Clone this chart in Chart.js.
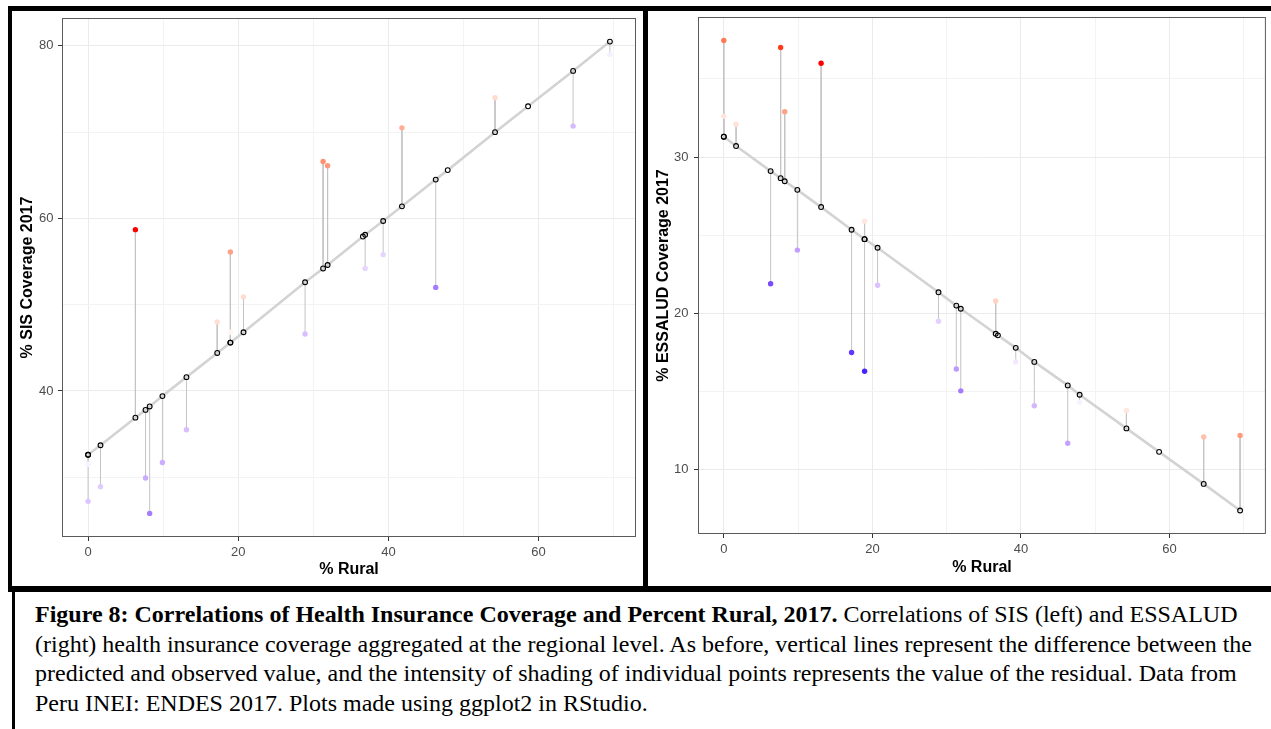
<!DOCTYPE html>
<html>
<head>
<meta charset="utf-8">
<script src="https://cdn.jsdelivr.net/npm/chart.js@4.4.1/dist/chart.umd.min.js"></script>
<style>
body { margin: 0; background: #fff; width: 1271px; height: 729px; overflow: hidden; position: relative; }
.bar { position: absolute; background: #000; }
canvas { position: absolute; }
#caption { position: absolute; left: 35px; top: 600px; font-family: "Liberation Serif", serif; font-size: 24px; line-height: 29.6px; white-space: nowrap; color: #000; }
</style>
</head>
<body>
<div class="bar" style="left:8px;top:6px;width:1263px;height:5px"></div>
<div class="bar" style="left:8px;top:6px;width:4px;height:586px"></div>
<div class="bar" style="left:643px;top:6px;width:5px;height:586px"></div>
<div class="bar" style="left:8px;top:586px;width:1263px;height:6px"></div>
<div class="bar" style="left:12px;top:592px;width:3px;height:137px"></div>

<canvas id="sis" width="631" height="575" style="left:12px;top:11px"></canvas>
<canvas id="essalud" width="623" height="575" style="left:648px;top:11px"></canvas>

<div id="caption"><b>Figure 8: Correlations of Health Insurance Coverage and Percent Rural, 2017.</b> Correlations of SIS (left) and ESSALUD<br>(right) health insurance coverage aggregated at the regional level. As before, vertical lines represent the difference between the<br>predicted and observed value, and the intensity of shading of individual points represents the value of the residual. Data from<br>Peru INEI: ENDES 2017. Plots made using ggplot2 in RStudio.</div>

<script>
// % rural population per region (shared x for both plots)
var pctRural = [0, 0, 1.65, 6.3, 7.65, 8.2, 9.9, 13.1, 17.2, 18.95, 18.95, 20.7, 28.9,
    31.3, 31.9, 36.6, 36.9, 39.3, 41.8, 46.3, 47.9, 54.2, 58.6, 64.6, 69.5];

// SIS coverage: observed and predicted (regression line)
var sisObserved = [31.5, 27.2, 28.9, 58.7, 29.9, 25.8, 31.7, 35.5, 48.0, 56.1, 46.8, 50.9, 46.6,
    66.6, 66.1, 58.0, 54.2, 55.8, 70.5, 52.0, 65.7, 74.0, 73.0, 70.7, 79.0];
var sisPredicted = [32.6, 32.6, 33.7, 36.9, 37.8, 38.2, 39.4, 41.6, 44.4, 45.6, 45.6, 46.8, 52.6,
    54.2, 54.6, 57.9, 58.1, 59.7, 61.4, 64.5, 65.6, 70.0, 73.0, 77.1, 80.5];

// ESSALUD coverage: observed and predicted
var essaludObserved = [37.45, 32.6, 32.1, 21.9, 37.0, 32.9, 24.05, 36.0, 17.5, 16.3, 25.9, 21.8, 19.5,
    16.45, 15.05, 20.8, 18.5, 16.9, 14.1, 11.7, 14.3, 13.8, 11.1, 12.1, 12.2];
var essaludPredicted = [31.3, 31.3, 30.7, 29.1, 28.65, 28.45, 27.9, 26.8, 25.35, 24.75, 24.75, 24.2, 21.35,
    20.5, 20.3, 18.7, 18.6, 17.8, 16.9, 15.4, 14.8, 12.65, 11.15, 9.1, 7.4];

// tick labels and grid lines (major + minor)
var xTicks = [0, 20, 40, 60];
var xGrid = [0, 10, 20, 30, 40, 50, 60, 70];
var sisTicks = [40, 60, 80];
var sisGrid = [30, 40, 50, 60, 70, 80];
var essaludTicks = [10, 20, 30];
var essaludGrid = [10, 15, 20, 25, 30, 35];

// --- colour scale like scale_colour_gradient2(low="blue", mid="white", high="red"), Lab interpolation
function toLin(c) { c = c / 255; return c <= 0.04045 ? c / 12.92 : Math.pow((c + 0.055) / 1.055, 2.4); }
function toSrgb(c) { c = c <= 0.0031308 ? 12.92 * c : 1.055 * Math.pow(c, 1 / 2.4) - 0.055; return Math.round(Math.max(0, Math.min(1, c)) * 255); }
function rgbToLab(rgb) {
    var r = toLin(rgb[0]), g = toLin(rgb[1]), b = toLin(rgb[2]);
    var x = (0.4124 * r + 0.3576 * g + 0.1805 * b) / 0.95047;
    var y = (0.2126 * r + 0.7152 * g + 0.0722 * b);
    var z = (0.0193 * r + 0.1192 * g + 0.9505 * b) / 1.08883;
    var f = function(t) { return t > 0.008856 ? Math.cbrt(t) : 7.787 * t + 16 / 116; };
    var fx = f(x), fy = f(y), fz = f(z);
    return [116 * fy - 16, 500 * (fx - fy), 200 * (fy - fz)];
}
function labToRgb(lab) {
    var fy = (lab[0] + 16) / 116, fx = fy + lab[1] / 500, fz = fy - lab[2] / 200;
    var inv = function(t) { return t * t * t > 0.008856 ? t * t * t : (t - 16 / 116) / 7.787; };
    var x = inv(fx) * 0.95047, y = inv(fy), z = inv(fz) * 1.08883;
    var r = 3.2406 * x - 1.5372 * y - 0.4986 * z;
    var g = -0.9689 * x + 1.8758 * y + 0.0415 * z;
    var b = 0.0557 * x - 0.2040 * y + 1.0570 * z;
    return 'rgb(' + toSrgb(r) + ',' + toSrgb(g) + ',' + toSrgb(b) + ')';
}
var labWhite = rgbToLab([255, 255, 255]);
var labRed = rgbToLab([255, 0, 0]);
var labBlue = rgbToLab([0, 0, 255]);

function residualColors(observed, predicted) {
    var res = observed.map(function(v, i) { return v - predicted[i]; });
    var maxAbs = Math.max.apply(null, res.map(Math.abs));
    return res.map(function(r) {
        var t = Math.abs(r) / maxAbs;
        var end = r > 0 ? labRed : labBlue;
        return labToRgb([0, 1, 2].map(function(k) { return labWhite[k] + (end[k] - labWhite[k]) * t; }));
    });
}

// ggplot-style 5% expansion of the data range
function expand(values) {
    var lo = Math.min.apply(null, values), hi = Math.max.apply(null, values);
    var d = (hi - lo) * 0.05;
    return [lo - d, hi + d];
}

var panelBorder = {
    id: 'panelBorder',
    beforeDatasetsDraw: function(chart) {
        var a = chart.chartArea, c = chart.ctx;
        c.save();
        c.strokeStyle = '#5a5a5a';
        c.lineWidth = 1;
        c.strokeRect(a.left + 0.5, a.top + 0.5, a.right - a.left - 1, a.bottom - a.top - 1);
        c.restore();
    }
};

function noLabelPadding(s) {
    s.paddingTop = 0; s.paddingBottom = 0; s.paddingLeft = 0; s.paddingRight = 0;
}

function makeChart(id, observed, predicted, yTicks, yGrid, yTitle, opts) {
    var xr = expand(pctRural);
    var yr = expand(observed.concat(predicted));

    var segments = [];
    pctRural.forEach(function(x, i) {
        segments.push({ x: x, y: observed[i] }, { x: x, y: predicted[i] }, { x: x, y: null });
    });

    var gridColor = function(list) {
        return function(ctx) { return list.indexOf(ctx.tick.value) >= 0 ? '#ebebeb' : '#f3f3f3'; };
    };
    var tickColor = function(list) {
        return function(ctx) { return list.indexOf(ctx.tick.value) >= 0 ? '#333333' : 'rgba(0,0,0,0)'; };
    };
    var tickFont = { family: 'Liberation Sans', size: 13 };
    var titleFont = { family: 'Liberation Sans', size: 16, weight: 'bold' };

    return new Chart(document.getElementById(id), {
        type: 'scatter',
        data: {
            datasets: [{
                // predicted values: open circles
                data: pctRural.map(function(x, i) { return { x: x, y: predicted[i] }; }),
                pointRadius: 2.4,
                pointBorderWidth: 1.1,
                pointBorderColor: '#000',
                pointBackgroundColor: 'rgba(0,0,0,0)',
                order: 0
            }, {
                // observed values coloured by residual
                data: pctRural.map(function(x, i) { return { x: x, y: observed[i] }; }),
                pointRadius: 2.7,
                pointBorderWidth: 0,
                pointBackgroundColor: residualColors(observed, predicted),
                order: 1
            }, {
                // regression line
                data: pctRural.map(function(x, i) { return { x: x, y: predicted[i] }; }),
                showLine: true,
                borderColor: '#d3d3d3',
                borderWidth: 2.6,
                pointRadius: 0,
                order: 2
            }, {
                // residual segments
                data: segments,
                showLine: true,
                spanGaps: false,
                borderColor: '#c4c4c4',
                borderWidth: 1,
                pointRadius: 0,
                order: 3
            }]
        },
        options: {
            responsive: false,
            devicePixelRatio: 1,
            animation: false,
            events: [],
            layout: { padding: opts.padding },
            plugins: { legend: { display: false }, tooltip: { enabled: false } },
            scales: {
                x: {
                    type: 'linear',
                    min: xr[0],
                    max: xr[1],
                    afterBuildTicks: function(s) { s.ticks = xGrid.map(function(v) { return { value: v }; }); },
                    afterFit: function(s) { s.height = opts.xHeight; noLabelPadding(s); },
                    border: { display: false },
                    grid: { color: gridColor(xTicks), lineWidth: 1, tickLength: 4, tickColor: tickColor(xTicks), tickWidth: 1 },
                    ticks: {
                        autoSkip: false, maxRotation: 0, padding: 4, color: '#4d4d4d', font: tickFont,
                        callback: function(v) { return xTicks.indexOf(v) >= 0 ? String(v) : ''; }
                    },
                    title: { display: true, text: '% Rural', color: '#000', font: titleFont, padding: { top: 0, bottom: opts.xTitlePad } }
                },
                y: {
                    type: 'linear',
                    min: yr[0],
                    max: yr[1],
                    afterBuildTicks: function(s) { s.ticks = yGrid.map(function(v) { return { value: v }; }); },
                    afterFit: function(s) { s.width = 50; noLabelPadding(s); },
                    border: { display: false },
                    grid: { color: gridColor(yTicks), lineWidth: 1, tickLength: 4, tickColor: tickColor(yTicks), tickWidth: 1 },
                    ticks: {
                        autoSkip: false, padding: opts.yLabelPad, color: '#4d4d4d', font: tickFont,
                        callback: function(v) { return yTicks.indexOf(v) >= 0 ? String(v) : ''; }
                    },
                    title: { display: true, text: yTitle, color: '#000', font: titleFont, padding: { top: opts.yTitlePad, bottom: 0 } }
                }
            }
        },
        plugins: [panelBorder]
    });
}

makeChart('sis', sisObserved, sisPredicted, sisTicks, sisGrid, '% SIS Coverage 2017',
    { padding: { left: 0, top: 7, right: 7, bottom: 0 }, xHeight: 49, xTitlePad: 6.4, yTitlePad: 6.4, yLabelPad: 4.5 });
makeChart('essalud', essaludObserved, essaludPredicted, essaludTicks, essaludGrid, '% ESSALUD Coverage 2017',
    { padding: { left: 0, top: 6, right: 0, bottom: 0 }, xHeight: 52, xTitlePad: 8.4, yTitlePad: 6.2, yLabelPad: 5.5 });
</script>
</body>
</html>
